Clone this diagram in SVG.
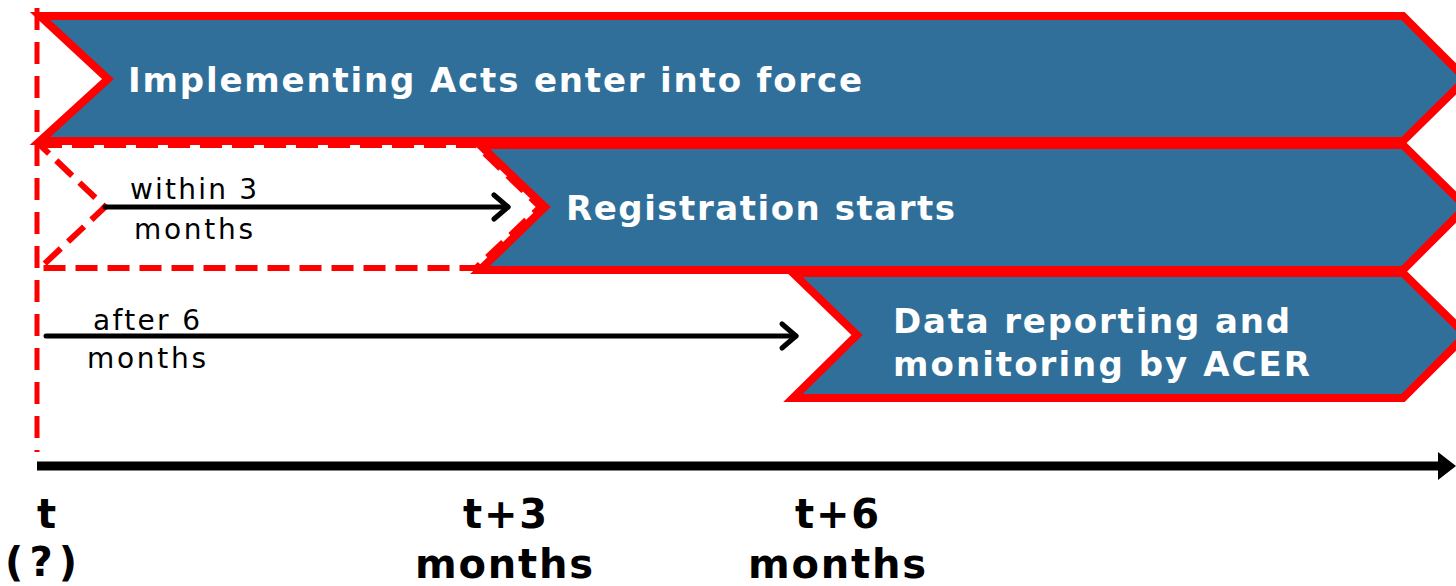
<svg xmlns="http://www.w3.org/2000/svg" width="1456" height="586" viewBox="0 0 1456 586">
<style>
.chev{fill:#306F99;stroke:#FF0000;stroke-width:8;stroke-linejoin:miter}
.dash{fill:none;stroke:#FF0000;stroke-width:6;stroke-dasharray:22 10}
.big{font-family:"DejaVu Sans",Verdana,sans-serif;font-weight:bold;font-size:34px;fill:#FFFFFF}
.small{font-family:"DejaVu Sans",Verdana,sans-serif;font-size:28px;fill:#000000}
.axis{font-family:"DejaVu Sans",Verdana,sans-serif;font-weight:bold;font-size:40px;fill:#000000}
.conn{stroke:#000000;stroke-width:5;fill:none;stroke-linecap:round;stroke-linejoin:round}
</style>
<g id="node-implementing">
<path class="chev" d="M40,16 L1403,16 L1466,79 L1403,141 L40,141 L108,79 Z"/>
<text class="big" x="128" y="92" textLength="734" lengthAdjust="spacing">Implementing Acts enter into force</text>
</g>
<g id="node-registration">
<path class="chev" d="M480,145 L1403,145 L1466,207 L1403,270 L480,270 L545,207 Z"/>
<text class="big" x="566" y="220" textLength="389" lengthAdjust="spacing">Registration starts</text>
</g>
<g id="node-dashed">
<path class="dash" d="M40,145 L476,145 L540,207 L476,268 L40,268 L105,207 Z"/>
</g>
<g id="node-reporting">
<path class="chev" d="M793,273 L1403,273 L1466,335 L1403,398 L793,398 L857,335 Z"/>
<text class="big" x="893" y="333" textLength="397" lengthAdjust="spacing">Data reporting and</text>
<text class="big" x="893" y="376" textLength="417" lengthAdjust="spacing">monitoring by ACER</text>
</g>
<g id="vline">
<line x1="37" y1="8" x2="37" y2="452" stroke="#FF0000" stroke-width="5" stroke-dasharray="22 12"/>
</g>
<g id="connectors">
<line class="conn" x1="105" y1="207" x2="508" y2="207"/>
<path class="conn" d="M494,195 L508,207 L494,219"/>
<line class="conn" x1="46" y1="336" x2="796" y2="336"/>
<path class="conn" d="M782,324 L796,336 L782,348"/>
<line x1="37" y1="466" x2="1440" y2="466" stroke="#000" stroke-width="9"/>
<path d="M1438,452 L1456,466 L1438,480 Z" fill="#000"/>
</g>
<g id="labels">
<text class="small" x="130" y="199" textLength="127" lengthAdjust="spacing">within 3</text>
<text class="small" x="134" y="239" textLength="119" lengthAdjust="spacing">months</text>
<text class="small" x="93" y="330" textLength="107" lengthAdjust="spacing">after 6</text>
<text class="small" x="87" y="368" textLength="119" lengthAdjust="spacing">months</text>
<text class="axis" x="37" y="528" textLength="15" lengthAdjust="spacing">t</text>
<text class="axis" x="5" y="576" textLength="72" lengthAdjust="spacing">(?)</text>
<text class="axis" x="463" y="528" textLength="84" lengthAdjust="spacing">t+3</text>
<text class="axis" x="415" y="578" textLength="178" lengthAdjust="spacing">months</text>
<text class="axis" x="795" y="528" textLength="84" lengthAdjust="spacing">t+6</text>
<text class="axis" x="748" y="578" textLength="178" lengthAdjust="spacing">months</text>
</g>
</svg>
